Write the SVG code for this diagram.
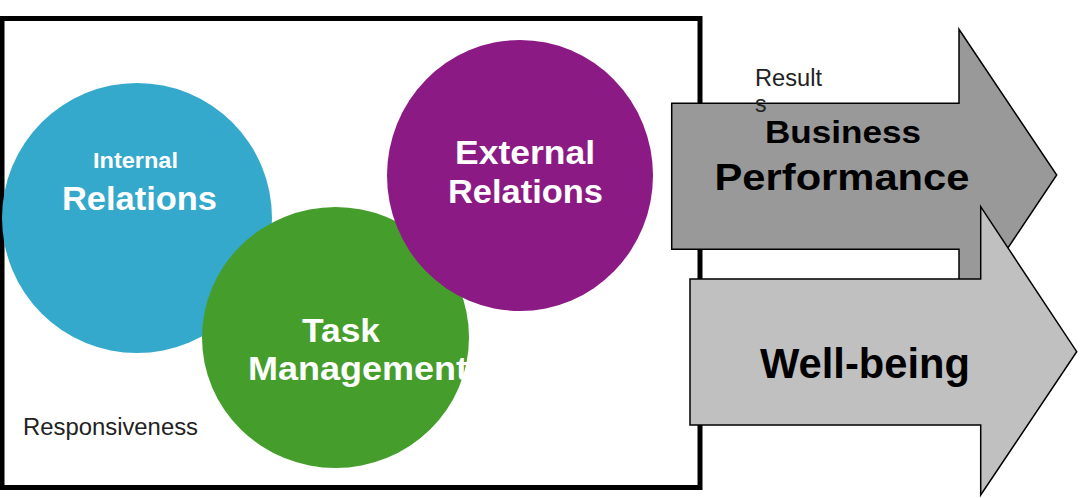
<svg xmlns="http://www.w3.org/2000/svg" width="1080" height="498" viewBox="0 0 1080 498">
<style>
.w{fill:#fff;font-family:"Liberation Sans",Arial,sans-serif;font-weight:bold;text-anchor:middle}
.k{fill:#000;font-family:"Liberation Sans",Arial,sans-serif;font-weight:bold;text-anchor:middle}
.n{fill:#222;font-family:"Liberation Sans",Arial,sans-serif}
.arrow{stroke:#000;stroke-width:1.5;stroke-linejoin:miter}
</style>
<rect width="1080" height="498" fill="#fff"/>
<g id="frame"><rect x="2" y="18.5" width="698" height="469" fill="none" stroke="#000" stroke-width="5"/></g>
<g id="internal">
<ellipse cx="137" cy="218" rx="135" ry="135" fill="#35A9CC"/>
<text class="w" x="135.5" y="168" font-size="22.5" textLength="85" lengthAdjust="spacingAndGlyphs">Internal</text>
<text class="w" x="139.5" y="210" font-size="34" textLength="155" lengthAdjust="spacingAndGlyphs">Relations</text>
</g>
<g id="task">
<ellipse cx="335.5" cy="337.5" rx="133.5" ry="130.5" fill="#459E2B"/>
<text class="w" x="341" y="342" font-size="34" textLength="78" lengthAdjust="spacingAndGlyphs">Task</text>
<text class="w" x="358" y="380" font-size="34" textLength="220" lengthAdjust="spacingAndGlyphs">Management</text>
</g>
<g id="external">
<ellipse cx="520" cy="175.5" rx="133" ry="135.5" fill="#8C1A85"/>
<text class="w" x="525" y="164" font-size="34" textLength="140" lengthAdjust="spacingAndGlyphs">External</text>
<text class="w" x="525.5" y="203" font-size="34" textLength="155" lengthAdjust="spacingAndGlyphs">Relations</text>
</g>
<g id="responsiveness">
<text class="n" x="23" y="435" font-size="23.5" textLength="175" lengthAdjust="spacingAndGlyphs">Responsiveness</text>
</g>
<g id="business">
<path class="arrow" d="M671.7,103.3 H959 V29.3 L1056.7,175 L959,321 V249.3 H671.7 Z" fill="#999999"/>
</g>
<g id="wellbeing">
<path class="arrow" d="M690,279 H980.7 V206.7 L1076.7,351.7 L980.7,495 V425 H690 Z" fill="#C0C0C0"/>
<text class="k" x="865" y="378" font-size="42" textLength="210" lengthAdjust="spacingAndGlyphs">Well-being</text>
</g>
<g id="business-label">
<text class="n" x="755" y="86" font-size="23" textLength="67" lengthAdjust="spacingAndGlyphs">Result</text>
<text class="n" x="755" y="111.5" font-size="23">s</text>
<text class="k" x="843" y="143" font-size="31" textLength="156" lengthAdjust="spacingAndGlyphs">Business</text>
<text class="k" x="842" y="190" font-size="37" textLength="255" lengthAdjust="spacingAndGlyphs">Performance</text>
</g>
<g id="connectors"></g>
</svg>
